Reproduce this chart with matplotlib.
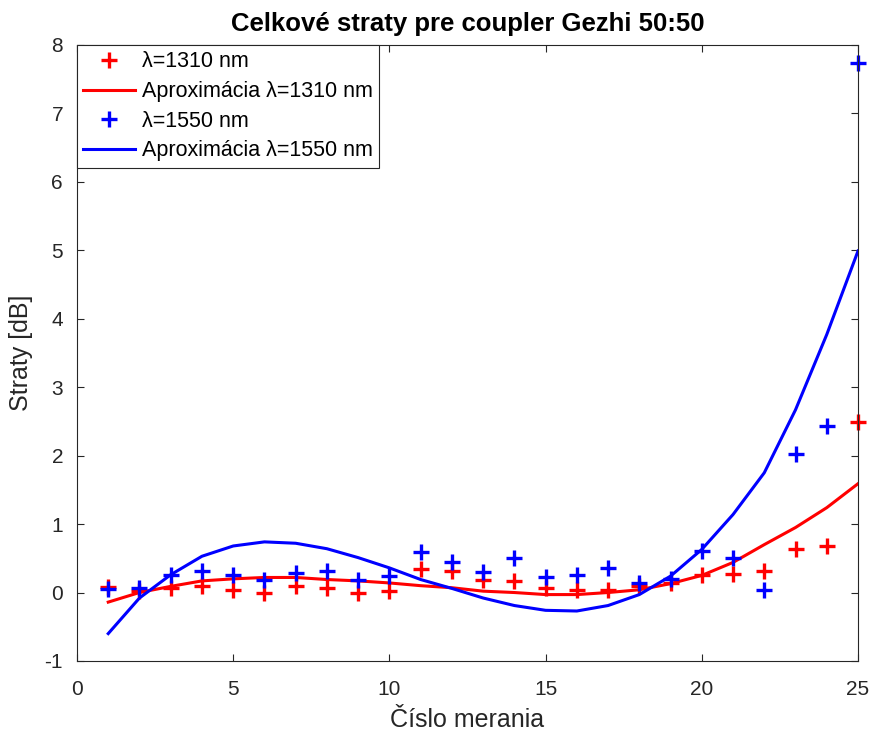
# Total losses for the Gezhi 50:50 coupler, measured at 1310 nm and 1550 nm
import matplotlib.pyplot as plt

plt.rcParams['font.family'] = ['Liberation Sans', 'DejaVu Sans']
plt.rcParams['axes.unicode_minus'] = False

meranie = list(range(1, 26))

# measured losses [dB]
straty_1310 = [0.08, 0.02, 0.06, 0.09, 0.03, 0.00, 0.09, 0.07, -0.01, 0.02,
               0.34, 0.31, 0.18, 0.17, 0.07, 0.03, 0.04, 0.10, 0.14, 0.26,
               0.27, 0.31, 0.64, 0.68, 2.49]
straty_1550 = [0.05, 0.07, 0.25, 0.31, 0.25, 0.19, 0.29, 0.32, 0.19, 0.24,
               0.59, 0.45, 0.30, 0.50, 0.22, 0.25, 0.36, 0.14, 0.20, 0.60,
               0.51, 0.03, 2.03, 2.44, 7.73]

# polynomial approximation evaluated at each measurement
aprox_1310 = [-0.14, 0.00, 0.09, 0.17, 0.20, 0.22, 0.22, 0.19, 0.17, 0.14,
              0.10, 0.07, 0.02, 0.00, -0.03, -0.03, 0.00, 0.04, 0.13, 0.25,
              0.44, 0.70, 0.95, 1.24, 1.59]
aprox_1550 = [-0.60, -0.08, 0.26, 0.53, 0.68, 0.74, 0.72, 0.64, 0.51, 0.36,
              0.19, 0.06, -0.08, -0.19, -0.26, -0.27, -0.19, -0.03, 0.24, 0.63,
              1.14, 1.75, 2.67, 3.77, 4.99]

fig = plt.figure(figsize=(8.74, 7.34), dpi=100)
ax = fig.add_axes([0.0881, 0.0995, 0.8936, 0.8392])

ax.plot(meranie, straty_1310, '+', color='red', markersize=12, mew=2.4,
        label='λ=1310 nm', clip_on=False)
ax.plot(meranie, aprox_1310, '-', color='red', linewidth=2.2,
        label='Aproximácia λ=1310 nm')
ax.plot(meranie, straty_1550, '+', color='blue', markersize=12, mew=2.4,
        label='λ=1550 nm', clip_on=False)
ax.plot(meranie, aprox_1550, '-', color='blue', linewidth=2.2,
        label='Aproximácia λ=1550 nm')

ax.set_xlim(0, 25)
ax.set_ylim(-1, 8)
ax.set_xticks([0, 5, 10, 15, 20, 25])
ax.set_yticks(range(-1, 9))
ax.tick_params(direction='in', length=5, labelsize=15, colors='#262626',
               top=True, right=True, labelcolor='#262626')
ax.tick_params(axis='x', pad=14)
ax.tick_params(axis='y', pad=10)
for s in ax.spines.values():
    s.set_color('#262626')
    s.set_linewidth(0.8)

ax.set_title('Celkové straty pre coupler Gezhi 50:50', fontsize=18.5,
             fontweight='bold', pad=10)
ax.set_xlabel('Číslo merania', fontsize=18, color='#262626', labelpad=6)
ax.set_ylabel('Straty [dB]', fontsize=18, color='#262626', labelpad=8)

leg = ax.legend(loc='upper left', fontsize=15.5, fancybox=False,
                framealpha=1, edgecolor='#262626', borderaxespad=0,
                handlelength=2.4, handletextpad=0.3, labelspacing=0.4,
                borderpad=0.3)
leg.get_frame().set_linewidth(0.8)

plt.savefig('out.png', dpi=100)
